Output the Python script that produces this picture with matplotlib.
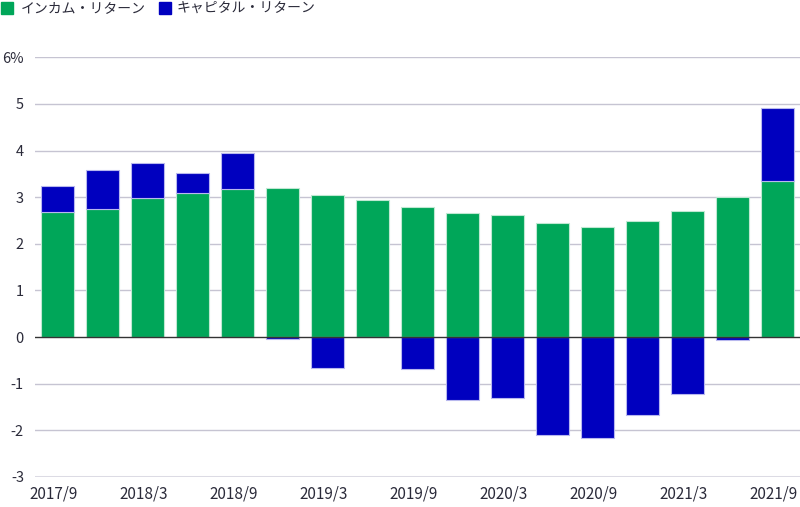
import numpy as np
import matplotlib.pyplot as plt
import matplotlib.transforms as mtrans
from matplotlib.patches import Rectangle

plt.rcParams["font.family"] = ["Noto Sans CJK JP", "DejaVu Sans"]

# 四半期ごとのリターン (%)
periods = ["2017/9", "2017/12", "2018/3", "2018/6", "2018/9", "2018/12",
           "2019/3", "2019/6", "2019/9", "2019/12", "2020/3", "2020/6",
           "2020/9", "2020/12", "2021/3", "2021/6", "2021/9"]
income = [2.68, 2.74, 2.98, 3.10, 3.17, 3.20, 3.04, 2.93, 2.78, 2.66,
          2.62, 2.45, 2.36, 2.48, 2.70, 3.01, 3.34]
capital = [0.56, 0.84, 0.75, 0.42, 0.78, -0.04, -0.66, 0.0, -0.69, -1.35,
           -1.31, -2.11, -2.16, -1.66, -1.23, -0.06, 1.58]
yticks = [-3, -2, -1, 0, 1, 2, 3, 4, 5, 6]
ytick_labels = ["-3", "-2", "-1", "0", "1", "2", "3", "4", "5", "6%"]

green = "#00a659"
blue = "#0000bf"
text_col = "#2b2b3a"

x = np.arange(len(periods))
income = np.array(income)
capital = np.array(capital)
cap_bottom = np.where(capital > 0, income, 0)

fig = plt.figure(figsize=(8, 5.07), dpi=100)
ax = fig.add_axes([35 / 800, 30 / 507, 765 / 800, 419.7 / 507])

# グリッド線
for v in yticks:
    if v == 0:
        continue
    if v == -3:
        ax.axhline(v, color="#dcdbe4", lw=2.2, zorder=1)
    else:
        ax.axhline(v, color="#c6c4d2", lw=1.0, zorder=1)

ax.bar(x, income, width=0.73, color=green, edgecolor="#bfe8d2",
       linewidth=0.8, zorder=2)
ax.bar(x, capital, width=0.73, bottom=cap_bottom, color=blue,
       edgecolor="#b8b8ee", linewidth=0.8, zorder=2)

ax.axhline(0, color="#333333", lw=1.0, zorder=3)

ax.set_xlim(-0.5, 16.5)
ax.set_ylim(-3, 6)
ax.set_yticks(yticks)
ax.set_yticklabels(ytick_labels)
ax.set_xticks(x[::2])
ax.set_xticklabels(periods[::2])
ax.tick_params(axis="both", length=0, colors=text_col)
ax.tick_params(axis="x", labelsize=11, pad=6)
ax.tick_params(axis="y", labelsize=10.5, pad=8)
for s in ax.spines.values():
    s.set_visible(False)

# x ラベルを少し左へ
shift = mtrans.ScaledTranslation(-4 / 100, 0, fig.dpi_scale_trans)
for lab in ax.get_xticklabels():
    lab.set_transform(lab.get_transform() + shift)

# 凡例
fig.patches.append(Rectangle((1 / 800, 1 - 14 / 507), 12 / 800, 12 / 507,
                             transform=fig.transFigure, color=green))
fig.text(21 / 800, 1 - 8 / 507, "インカム・リターン", fontsize=10,
         color=text_col, va="center", ha="left")
fig.patches.append(Rectangle((159 / 800, 1 - 14 / 507), 12 / 800, 12 / 507,
                             transform=fig.transFigure, color=blue))
fig.text(177 / 800, 1 - 8 / 507, "キャピタル・リターン", fontsize=10,
         color=text_col, va="center", ha="left")

fig.savefig("out.png", dpi=100)
